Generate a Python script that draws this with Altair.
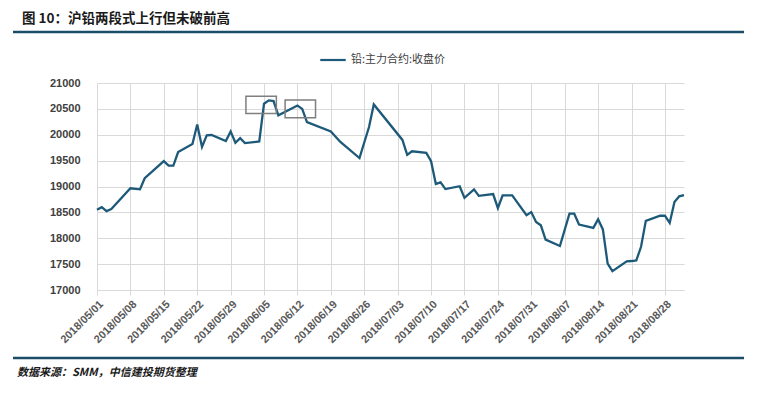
import altair as alt
import pandas as pd

# ---- data ----
dates = [
    "2018/05/01", "2018/05/02", "2018/05/03", "2018/05/04", "2018/05/08", "2018/05/10",
    "2018/05/11", "2018/05/15", "2018/05/16", "2018/05/17", "2018/05/18", "2018/05/21",
    "2018/05/22", "2018/05/23", "2018/05/24", "2018/05/25", "2018/05/28", "2018/05/29",
    "2018/05/30", "2018/05/31", "2018/06/01", "2018/06/04", "2018/06/05", "2018/06/06",
    "2018/06/07", "2018/06/08", "2018/06/11", "2018/06/12", "2018/06/13", "2018/06/14",
    "2018/06/19", "2018/06/21", "2018/06/25", "2018/06/26", "2018/06/27", "2018/06/28",
    "2018/07/04", "2018/07/05", "2018/07/06", "2018/07/09", "2018/07/10", "2018/07/11",
    "2018/07/12", "2018/07/13", "2018/07/16", "2018/07/17", "2018/07/19", "2018/07/20",
    "2018/07/23", "2018/07/24", "2018/07/25", "2018/07/26", "2018/07/27", "2018/07/30",
    "2018/07/31", "2018/08/01", "2018/08/02", "2018/08/03", "2018/08/06", "2018/08/08",
    "2018/08/09", "2018/08/10", "2018/08/13", "2018/08/14", "2018/08/15", "2018/08/16",
    "2018/08/17", "2018/08/20", "2018/08/21", "2018/08/22", "2018/08/23", "2018/08/24",
    "2018/08/27", "2018/08/28", "2018/08/29", "2018/08/30", "2018/08/31", "2018/09/01",
]
prices = [
    18550, 18600, 18525, 18565, 18965, 18945,
    19160, 19490, 19405, 19405, 19665, 19820,
    20200, 19765, 19990, 19995, 19880, 20065,
    19845, 19935, 19840, 19870, 20600, 20665,
    20650, 20375, 20515, 20565, 20500, 20245,
    20065, 19860, 19550, 19850, 20150, 20585,
    19900, 19610, 19680, 19650, 19490, 19050,
    19080, 18950, 19005, 18780, 18945, 18820,
    18855, 18585, 18830, 18830, 18830, 18445,
    18505, 18315, 18250, 17975, 17850, 18475,
    18475, 18265, 18200, 18365, 18170, 17510,
    17365, 17555, 17560, 17570, 17835, 18335,
    18435, 18435, 18295, 18700, 18810, 18835,
]
series_name = "铅:主力合约:收盘价"
x_tick_labels = [
    "2018/05/01", "2018/05/08", "2018/05/15", "2018/05/22", "2018/05/29", "2018/06/05",
    "2018/06/12", "2018/06/19", "2018/06/26", "2018/07/03", "2018/07/10", "2018/07/17",
    "2018/07/24", "2018/07/31", "2018/08/07", "2018/08/14", "2018/08/21", "2018/08/28",
]
y_ticks = [17000, 17500, 18000, 18500, 19000, 19500, 20000, 20500, 21000]
x_domain = ["2018/05/01", "2018/09/01"]

# highlight boxes (start, end, low, high)
box_start = ["2018/06/01 05:00", "2018/06/09 10:00"]
box_end = ["2018/06/07 14:00", "2018/06/15 19:00"]
box_low = [20410, 20330]
box_high = [20745, 20670]

title_text = "图 10：沪铅两段式上行但未破前高"
source_text = "数据来源：SMM，中信建投期货整理"

LINE = "#1d5a7a"
BAR = "#1b4d68"
GRID = "#d9d9d9"
TXT = "#595959"


def to_dt(s):
    y, m, d = s.split("/")
    return alt.DateTime(year=int(y), month=int(m), date=int(d))


df = pd.DataFrame({"date": dates, "price": prices, "series": series_name})
boxes = pd.DataFrame({"s": box_start, "e": box_end, "lo": box_low, "hi": box_high})

x_scale = alt.Scale(domain=[to_dt(v) for v in x_domain], nice=False)
y_scale = alt.Scale(domain=[y_ticks[0], y_ticks[-1]], nice=False, zero=False)

line = alt.Chart(df).mark_line(strokeWidth=2.3).encode(
    x=alt.X(
        "date:T",
        scale=x_scale,
        axis=alt.Axis(
            title=None,
            values=[to_dt(v) for v in x_tick_labels],
            tickCount=100,
            format="%Y/%m/%d",
            labelAngle=-45,
            labelFont="Liberation Sans",
            labelFontSize=11,
            labelFontWeight="bold",
            labelColor=TXT,
            labelPadding=3,
            grid=True,
            gridColor=GRID,
            domainColor=GRID,
            tickColor=GRID,
            tickSize=5,
            labelOverlap=False,
        ),
    ),
    y=alt.Y(
        "price:Q",
        scale=y_scale,
        axis=alt.Axis(
            title=None,
            values=y_ticks,
            tickCount=100,
            format="d",
            labelFont="Liberation Sans",
            labelFontSize=11,
            labelFontWeight="bold",
            labelColor="#404040",
            labelPadding=17,
            labelOverlap=False,
            grid=True,
            gridColor=GRID,
            domain=False,
            ticks=False,
        ),
    ),
    color=alt.Color(
        "series:N",
        scale=alt.Scale(range=[LINE]),
        legend=alt.Legend(
            title=None,
            orient="none",
            legendX=222,
            legendY=-37,
            symbolType="stroke",
            symbolStrokeWidth=2.2,
            symbolSize=650,
            labelFont="Noto Sans CJK SC",
            labelFontSize=11,
            labelColor="#404040",
            labelOffset=4,
        ),
    ),
)

rects = alt.Chart(boxes).mark_rect(
    fillOpacity=0, stroke="#7f7f7f", strokeWidth=1.5
).encode(
    x=alt.X("s:T", scale=x_scale),
    x2="e:T",
    y=alt.Y("hi:Q", scale=y_scale),
    y2="lo:Q",
)

one = pd.DataFrame({"k": [0]})

title = alt.Chart(pd.DataFrame({"t": [title_text]})).mark_text(
    align="left", baseline="middle", font="Noto Sans CJK SC",
    fontSize=13.5, fontWeight="bold", color="#1a1a1a",
).encode(text="t:N", x=alt.value(-75), y=alt.value(-64.5))

top_rule = alt.Chart(one).mark_rule(color=BAR, strokeWidth=2.5).encode(
    x=alt.value(-84), x2=alt.value(648), y=alt.value(-51)
)
bottom_rule = alt.Chart(one).mark_rule(color=BAR, strokeWidth=2.5).encode(
    x=alt.value(-84), x2=alt.value(648), y=alt.value(275)
)

source = alt.Chart(pd.DataFrame({"t": [source_text]})).mark_text(
    align="left", baseline="middle", font="Noto Sans CJK SC",
    fontSize=11, fontWeight="bold", fontStyle="italic", color="#1a1a1a",
).encode(text="t:N", x=alt.value(-80), y=alt.value(290))

chart = alt.layer(line, rects, title, top_rule, bottom_rule, source).properties(
    width=587,
    height=207,
    autosize=alt.AutoSizeParams(type="none"),
    padding={"left": 89, "top": 75, "right": 60, "bottom": 100},
    background="white",
).configure_view(strokeWidth=0)

chart.save("out.html", embed_options={"renderer": "svg", "actions": False})
